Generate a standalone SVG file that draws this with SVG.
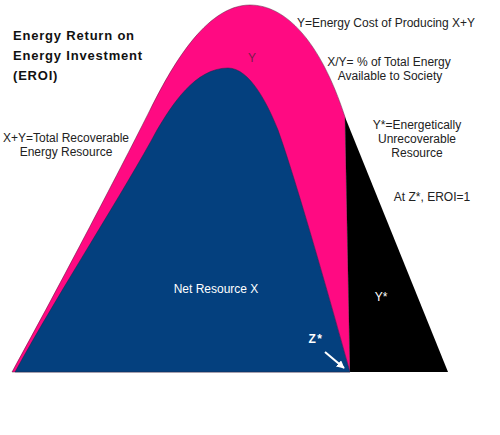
<svg xmlns="http://www.w3.org/2000/svg" width="500" height="435" viewBox="0 0 500 435">
<style>
.lbl{font-family:"Liberation Sans",Arial,sans-serif;font-size:12px;fill:#222;text-anchor:middle}
.title{font-family:"Liberation Sans",Arial,sans-serif;font-size:13px;font-weight:bold;fill:#111;letter-spacing:0.8px}
.wh{font-family:"Liberation Sans",Arial,sans-serif;font-size:12px;fill:#fff;text-anchor:middle}
</style>
<defs>
<marker id="ah" viewBox="0 0 10 10" refX="9" refY="5" markerWidth="4" markerHeight="4" orient="auto" markerUnits="strokeWidth">
<path d="M0,0 L10,5 L0,10 Z" fill="#fff"/>
</marker>
</defs>
<rect width="500" height="435" fill="#fff"/>
<g id="region-y">
<path d="M12,372 C60,285 125,160 150,110 C170,70 205,5 250,5 C285,5 320,40 345,117 L350,372 Z" fill="#FF0A82" stroke="#5a2040" stroke-width="0.5"/>
<text class="lbl" x="252" y="62" fill="#7a1a4a" style="fill:#7a1a4a">Y</text>
</g>
<g id="region-ystar">
<path d="M345,117 L448,372 L350,372 Z" fill="#000"/>
<text class="wh" x="381" y="301" font-size="11">Y*</text>
</g>
<g id="region-x">
<path d="M15,372 C60,290 125,190 157,130 C172,105 195,68 228,68 C250,68 268,105 278,130 C296,180 330,300 350,372 Z" fill="#04407E" stroke="#1a2a4a" stroke-width="0.5"/>
<text class="wh" x="216" y="293">Net Resource X</text>
<text class="wh" x="316" y="343" font-weight="bold" style="letter-spacing:1.5px">Z*</text>
</g>
<g id="title">
<text class="title" x="13" y="40">Energy Return on</text>
<text class="title" x="13" y="60">Energy Investment</text>
<text class="title" x="13" y="80">(EROI)</text>
</g>
<g id="label-total">
<text class="lbl" x="66" y="142">X+Y=Total Recoverable</text>
<text class="lbl" x="66" y="156">Energy Resource</text>
</g>
<g id="label-cost">
<text class="lbl" x="386" y="27">Y=Energy Cost of Producing X+Y</text>
</g>
<g id="label-society">
<text class="lbl" x="389" y="66">X/Y= % of Total Energy</text>
<text class="lbl" x="390" y="80">Available to Society</text>
</g>
<g id="label-unrecoverable">
<text class="lbl" x="417" y="129">Y*=Energetically</text>
<text class="lbl" x="417" y="143">Unrecoverable</text>
<text class="lbl" x="417" y="157">Resource</text>
</g>
<g id="label-eroi">
<text class="lbl" x="432" y="201">At Z*, EROI=1</text>
</g>
<g id="connectors">
<line x1="325" y1="352" x2="344" y2="368" stroke="#fff" stroke-width="2" marker-end="url(#ah)"/>
</g>
</svg>
